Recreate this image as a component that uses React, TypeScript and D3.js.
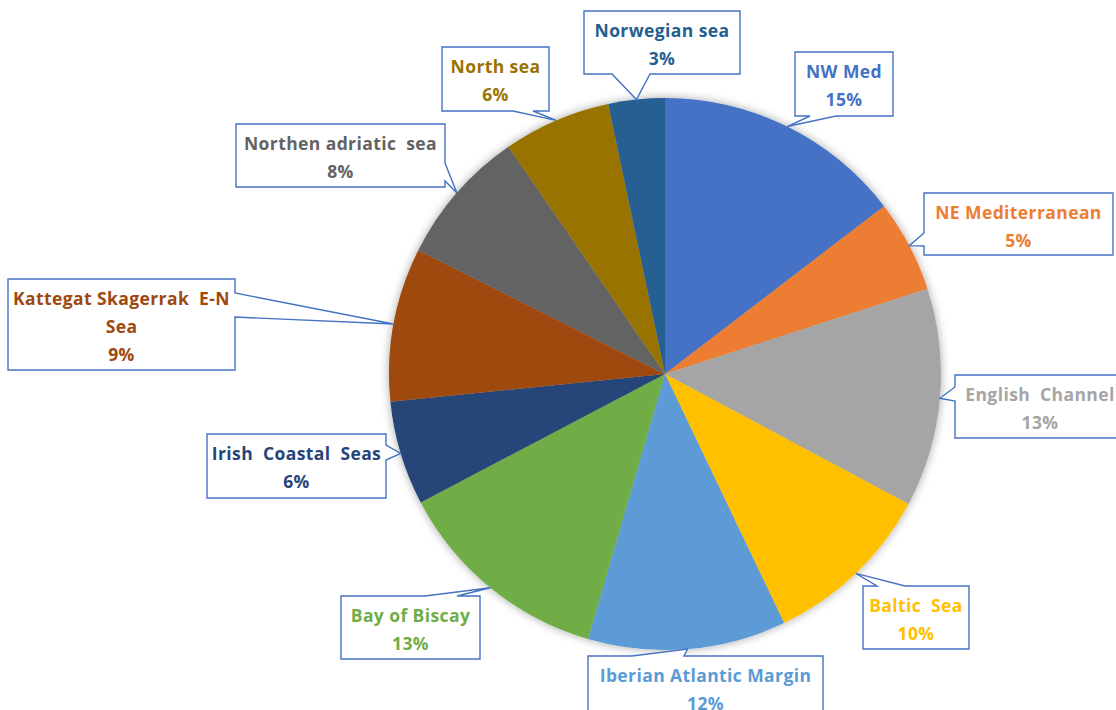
import React from "react";
import * as d3 from "d3";

// ---- data ----
const categories = [
  "NW Med",
  "NE Mediterranean",
  "English Channel",
  "Baltic Sea",
  "Iberian Atlantic Margin",
  "Bay of Biscay",
  "Irish Coastal Seas",
  "Kattegat Skagerrak E-N Sea",
  "Northen adriatic sea",
  "North sea",
  "Norwegian sea",
];
const values = [14.6, 5.4, 12.8, 10.1, 11.6, 12.8, 6.1, 9.0, 8.0, 6.3, 3.3];
const labelLines = [
  ["NW Med"],
  ["NE Mediterranean"],
  ["English  Channel"],
  ["Baltic  Sea"],
  ["Iberian Atlantic Margin"],
  ["Bay of Biscay"],
  ["Irish  Coastal  Seas"],
  ["Kattegat Skagerrak  E-N", "Sea"],
  ["Northen adriatic  sea"],
  ["North sea"],
  ["Norwegian sea"],
];
const colors = [
  "#4472C4",
  "#ED7D31",
  "#A5A5A5",
  "#FFC000",
  "#5B9BD5",
  "#70AD47",
  "#264478",
  "#9E480E",
  "#636363",
  "#997300",
  "#255E91",
];
const textColors = [
  "#4472C4",
  "#ED7D31",
  "#A5A5A5",
  "#FFC000",
  "#5B9BD5",
  "#70AD47",
  "#264478",
  "#9E480E",
  "#636363",
  "#997300",
  "#255E91",
];

// ---- layout of callout boxes (annotation geometry) ----
type Box = { x: number; y: number; w: number; h: number; side: string; a: number; b: number };
const boxes: Box[] = [
  { x: 795, y: 52, w: 98, h: 64, side: "bottom", a: 810, b: 836 },
  { x: 924, y: 193, w: 189, h: 62, side: "left", a: 233, b: 246 },
  { x: 955, y: 375, w: 170, h: 63, side: "left", a: 387, b: 401 },
  { x: 863, y: 586, w: 106, h: 63, side: "top", a: 877, b: 905 },
  { x: 588, y: 656, w: 235, h: 63, side: "top", a: 632, b: 684 },
  { x: 341, y: 596, w: 139, h: 63, side: "top", a: 425, b: 457 },
  { x: 207, y: 434, w: 179, h: 64, side: "right", a: 445, b: 460 },
  { x: 8, y: 279, w: 227, h: 91, side: "right", a: 293, b: 317 },
  { x: 236, y: 124, w: 209, h: 63, side: "right", a: 163, b: 181 },
  { x: 442, y: 47, w: 107, h: 64, side: "bottom", a: 513, b: 533 },
  { x: 584, y: 11, w: 156, h: 63, side: "bottom", a: 612, b: 650 },
];

const W = 1116;
const H = 710;
const cx = 665;
const cy = 374;
const R = 276;

function calloutPath(bx: Box, tx: number, ty: number): string {
  const { x, y, w, h, side, a, b } = bx;
  const r = x + w;
  const btm = y + h;
  if (side === "bottom")
    return `M${x},${y}H${r}V${btm}H${b}L${tx},${ty}L${a},${btm}H${x}Z`;
  if (side === "top")
    return `M${x},${y}H${a}L${tx},${ty}L${b},${y}H${r}V${btm}H${x}Z`;
  if (side === "left")
    return `M${x},${y}H${r}V${btm}H${x}V${b}L${tx},${ty}L${x},${a}Z`;
  return `M${x},${y}H${r}V${a}L${tx},${ty}L${r},${b}V${btm}H${x}Z`;
}

export default function App() {
  const total = d3.sum(values);
  const pie = d3
    .pie<number>()
    .sort(null)
    .value((d) => d);
  const arcs = pie(values);
  const arc = d3.arc<d3.PieArcDatum<number>>().innerRadius(0).outerRadius(R);
  const edge = d3.arc<d3.PieArcDatum<number>>().innerRadius(R).outerRadius(R);

  return (
    <svg
      width={W}
      height={H}
      style={{ position: "absolute", left: 0, top: 0, background: "#fff" }}
      fontFamily="'Open Sans', 'Noto Sans', sans-serif"
    >
      <defs>
        <filter id="sh" x="-20%" y="-20%" width="140%" height="140%">
          <feDropShadow dx="0" dy="0" stdDeviation="5" floodColor="#000" floodOpacity="0.35" />
        </filter>
      </defs>
      <rect width={W} height={H} fill="#fff" />
      <g transform={`translate(${cx},${cy})`} filter="url(#sh)">
        {arcs.map((d, i) => (
          <path key={i} d={arc(d) || ""} fill={colors[i]} />
        ))}
      </g>
      {arcs.map((d, i) => {
        const [ex, ey] = edge.centroid(d);
        const tx = cx + ex;
        const ty = cy + ey;
        const bx = boxes[i];
        const lines = [...labelLines[i], `${Math.round((values[i] / total) * 100)}%`];
        const midX = bx.x + bx.w / 2;
        return (
          <g key={categories[i]}>
            <path
              d={calloutPath(bx, tx, ty)}
              fill="#fff"
              stroke="#4472C4"
              strokeWidth={1.4}
              strokeLinejoin="miter"
            />
            {lines.map((ln, j) => (
              <text
                key={j}
                x={midX}
                y={bx.y + 19 + j * 28}
                textAnchor="middle"
                dominantBaseline="central"
                fontSize={17.5}
                fontWeight={700}
                letterSpacing={0.4}
                fill={textColors[i]}
                style={{ whiteSpace: "pre" }}
              >
                {ln}
              </text>
            ))}
          </g>
        );
      })}
    </svg>
  );
}
